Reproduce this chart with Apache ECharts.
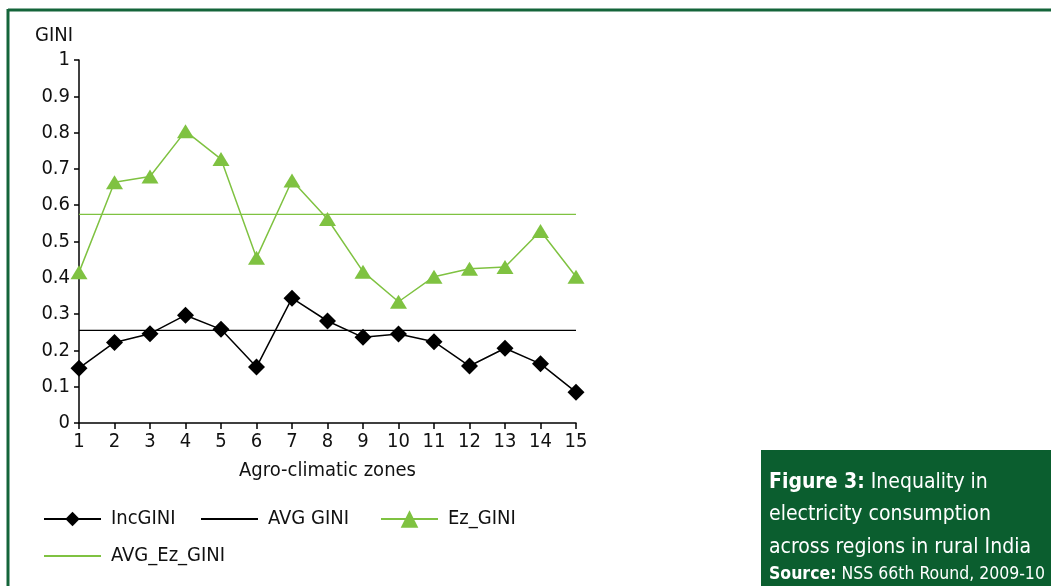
<!DOCTYPE html>
<html>
<head>
<meta charset="utf-8">
<script src="https://cdn.jsdelivr.net/npm/echarts@6/dist/echarts.min.js"></script>
<style>
html,body{margin:0;padding:0;background:#fff;}
#c{width:1051px;height:586px;}
</style>
</head>
<body>
<div id="c"></div>
<script>
const zones = ['1','2','3','4','5','6','7','8','9','10','11','12','13','14','15'];
const incGini = [0.151,0.222,0.246,0.297,0.258,0.154,0.344,0.281,0.236,0.245,0.224,0.157,0.206,0.163,0.085];
const avgGini = 0.255;
const ezGini = [0.415,0.663,0.679,0.804,0.727,0.455,0.668,0.562,0.417,0.334,0.403,0.425,0.430,0.529,0.403];
const avgEzGini = 0.575;
const yTicks = [0,0.1,0.2,0.3,0.4,0.5,0.6,0.7,0.8,0.9,1];

const FONT = '"DejaVu Sans Condensed","Liberation Sans Narrow","Roboto",sans-serif';
const GREEN = '#7fc241';
const DARK = '#0b5e2f';

const chart = echarts.init(document.getElementById('c'), null, {renderer:'canvas'});
const legendText = {fontFamily: FONT, fontSize: 20, color:'#111', padding:[0,0,0,5]};
function lg(item, left, top, h){
  return {data:[item], left:left, top:top, padding:0, itemWidth:57, itemHeight:h||18, textStyle:legendText, selectedMode:false};
}
chart.setOption({
  animation:false,
  textStyle:{fontFamily:FONT},
  grid:{left:79, right:475, top:60, bottom:163, containLabel:false},
  xAxis:{
    type:'category', data:zones, boundaryGap:false,
    name:'Agro-climatic zones', nameLocation:'middle', nameGap:38,
    nameTextStyle:{fontFamily:FONT, fontSize:20, color:'#111'},
    axisLine:{lineStyle:{color:'#000', width:1.5}},
    axisTick:{show:true, length:6, alignWithLabel:true, lineStyle:{color:'#000', width:1.5}},
    axisLabel:{fontFamily:FONT, fontSize:20, color:'#111', margin:9, interval:0},
    splitLine:{show:false}
  },
  yAxis:{
    type:'value', min:0, max:1, interval:0.1,
    name:'GINI', nameLocation:'end', nameGap:14,
    nameTextStyle:{fontFamily:FONT, fontSize:20, color:'#111', align:'right', padding:[0,6,0,0]},
    axisLine:{show:true, lineStyle:{color:'#000', width:1.5}},
    axisTick:{show:true, length:5, lineStyle:{color:'#000', width:1.5}},
    axisLabel:{fontFamily:FONT, fontSize:20, color:'#111', margin:9,
      formatter:function(v){ const t = yTicks.find(x=>Math.abs(x-v)<1e-9); return t===undefined? '' : String(t);} },
    splitLine:{show:false}
  },
  legend:[
    lg({name:'IncGINI'}, 43, 509, 18),
    lg({name:'AVG GINI', itemStyle:{opacity:0}}, 200, 509, 18),
    lg({name:'Ez_GINI'}, 380, 509, 22),
    lg({name:'AVG_Ez_GINI', itemStyle:{opacity:0}}, 43, 546, 18)
  ],
  series:[
    {name:'IncGINI', type:'line', data:incGini, symbol:'diamond', symbolSize:17,
     lineStyle:{color:'#000', width:1.5}, itemStyle:{color:'#000'}, z:5},
    {name:'AVG GINI', type:'line', data:zones.map(()=>avgGini), symbol:'none', showSymbol:false,
     lineStyle:{color:'#000', width:1.3}, itemStyle:{color:'#000'}, z:3},
    {name:'Ez_GINI', type:'line', data:ezGini, symbol:'triangle', symbolSize:[17,14],
     lineStyle:{color:GREEN, width:1.5}, itemStyle:{color:GREEN}, z:5},
    {name:'AVG_Ez_GINI', type:'line', data:zones.map(()=>avgEzGini), symbol:'none', showSymbol:false,
     lineStyle:{color:GREEN, width:1.3}, itemStyle:{color:GREEN}, z:3}
  ],
  graphic:[
    {type:'line', shape:{x1:8, y1:10, x2:1051, y2:10}, style:{stroke:'#14653a', lineWidth:3}, z:10},
    {type:'line', shape:{x1:8, y1:9, x2:8, y2:586}, style:{stroke:'#14653a', lineWidth:3}, z:10},
    {type:'rect', shape:{x:761, y:450, width:290, height:136}, style:{fill:DARK}, z:10},
    {type:'text', left:769, top:466, z:11, style:{
      text:'{b|Figure 3:} Inequality in\nelectricity consumption\nacross regions in rural India',
      fill:'#fff', font:'21px '+FONT, lineHeight:32.5,
      rich:{b:{fontWeight:'bold', fontSize:21, fontFamily:FONT, fill:'#fff', lineHeight:32.5}}
    }},
    {type:'text', left:769, top:565, z:11, style:{
      text:'{b|Source:} NSS 66th Round, 2009-10',
      fill:'#fff', font:'17.5px '+FONT,
      rich:{b:{fontWeight:'bold', fontSize:17.5, fontFamily:FONT, fill:'#fff'}}
    }}
  ]
});
</script>
</body>
</html>
